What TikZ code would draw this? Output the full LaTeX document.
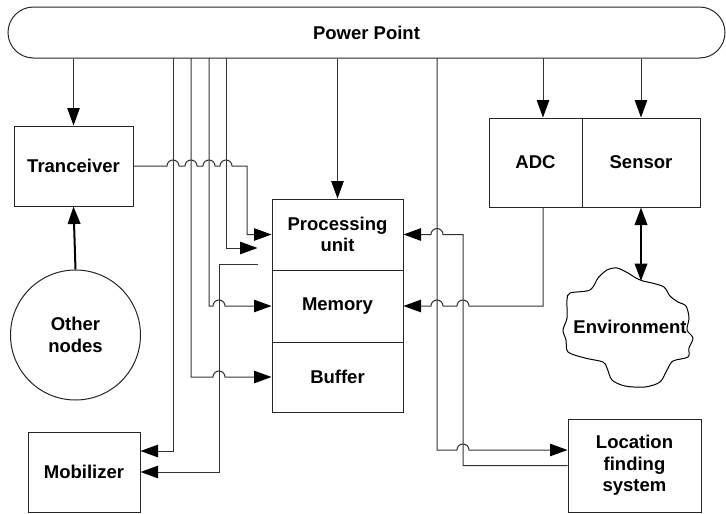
\documentclass[tikz,border=0pt]{standalone}
\usepackage{fontspec}
\setmainfont{Liberation Sans}
\usetikzlibrary{arrows.meta}

\begin{document}
\begin{tikzpicture}[x=1pt,y=1pt,>={Triangle[length=17.5pt,width=12.5pt,color=black]},
 line width=1pt,font=\fontsize{18.5}{21.5}\selectfont\bfseries,
 blk/.style={draw=black!85,align=center,inner sep=0pt},
 thickwire/.style={line width=2pt}]
\useasboundingbox (0,0) rectangle (726,-514);
\node[blk,rounded corners=25.5pt,minimum width=717,minimum height=51] (pp) at (366.5,-32.5) {Power Point};
\node[blk,minimum width=119,minimum height=80] (tr) at (73.5,-166) {Tranceiver};
\node[blk,circle,minimum size=130] (on) at (75.5,-335) {Other\\nodes};
\node[blk,minimum width=112,minimum height=80] (mob) at (84,-472) {Mobilizer};
\node[blk,minimum width=131,minimum height=71] (proc) at (337.5,-234.5) {Processing\\unit};
\node[blk,minimum width=131,minimum height=72] (mem) at (337.5,-306) {Memory};
\node[blk,minimum width=131,minimum height=70] (buf) at (337.5,-377) {Buffer};
\node[blk,minimum width=93,minimum height=89] (adc) at (535.5,-162.5) {ADC};
\node[blk,minimum width=118,minimum height=89] (sen) at (641,-162.5) {Sensor};
\node[blk,minimum width=133,minimum height=93] (loc) at (634.5,-465.5) {Location\\finding\\system};
\node (env) at (630,-327) {Environment};
% wavy outline round the environment
\draw[black] plot[smooth cycle] coordinates {(643,-281) (652,-283) (664,-287) (670,-296)
 (678,-302) (686,-306) (689,-318) (687,-330) (693,-338) (689,-348) (688,-357) (673,-361)
 (667,-370) (660,-382) (645,-387) (625,-386) (612,-380) (607,-368) (603,-362) (585,-358)
 (568,-352) (566,-340) (563,-330) (567,-318) (567,-300) (570,-293) (590,-290) (598,-278)
 (607,-270) (617,-268) (628,-273) (636,-278)};
\coordinate (envtop) at (641,-281);
% taps on the power bar
\coordinate (bmob) at (173,-58);
\coordinate (bbuf) at (191,-58);
\coordinate (bmem) at (209,-58);
\coordinate (bproc) at (226,-58);
\coordinate (bloc) at (437,-58);
\coordinate (badc) at (543,-58);
\draw[->,black!80] (tr.north |- pp.south) -- (tr.north);
\draw[->,thickwire] (on.north) -- (tr.south);
\draw[->,black!80] (bmob) |- ([yshift=21pt]mob.east);
\draw[->,black!80] (bbuf) |- (213,-377) arc[start angle=180,end angle=0,radius=6] -- (buf.west);
\draw[->,black!80] (bmem) |- (213,-306) arc[start angle=180,end angle=0,radius=6] -- (mem.west);
\draw[->,black!80] (bproc) |- ([shift={(-14,-13.5)}]proc.west);
\draw[->,black!80] ([shift={(-14,-29.5)}]proc.west) -- (219,-264) |- (mob.east);
\draw[->,black!80] (tr.east) -- (167,-166) arc[start angle=180,end angle=0,radius=6]
 -- (185,-166) arc[start angle=180,end angle=0,radius=6]
 -- (203,-166) arc[start angle=180,end angle=0,radius=6]
 -- (220,-166) arc[start angle=180,end angle=0,radius=6]
 -- (247,-166) |- (proc.west);
\draw[->,black!80] (proc.north |- pp.south) -- (proc.north);
\draw[->,black!80] (badc) -- ([xshift=7.5pt]adc.north);
\draw[->,black!80] (sen.north |- pp.south) -- (sen.north);
\draw[->,black!80] ([xshift=7.5pt]adc.south) |- (469,-306) arc[start angle=0,end angle=180,radius=6]
 -- (443,-306) arc[start angle=0,end angle=180,radius=6] -- (mem.east);
\draw[->,black!80] (loc.west) -| (463,-234.5) -- (443,-234.5) arc[start angle=0,end angle=180,radius=6] -- (proc.east);
\draw[->,black!80] (bloc) |- (457,-450) arc[start angle=180,end angle=0,radius=6] -- ([yshift=15.5pt]loc.west);
\draw[<->,thickwire] (sen.south) -- (envtop);
\end{tikzpicture}
\end{document}
